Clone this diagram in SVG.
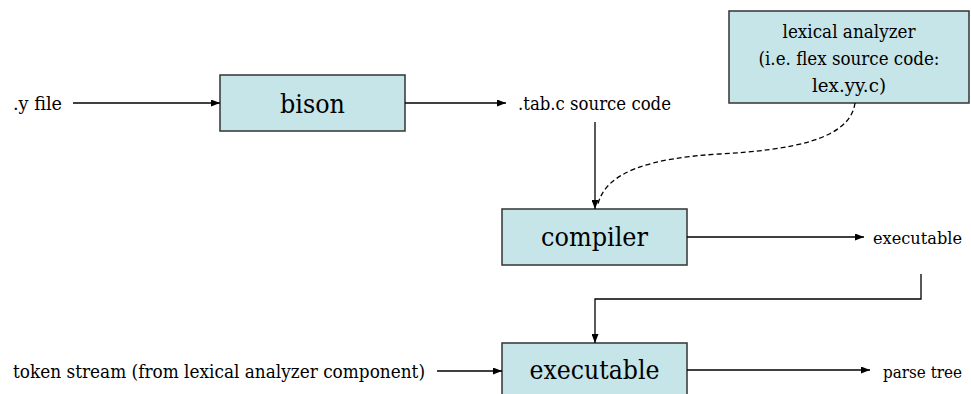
<svg xmlns="http://www.w3.org/2000/svg" width="971" height="394" viewBox="0 0 971 394">
<style>
.box{fill:#c6e5e8;stroke:#333;stroke-width:1.5}
text{font-family:"DejaVu Serif","Liberation Serif",serif;fill:#000}
.big{font-size:26px;text-anchor:middle}
.sm{font-size:18.5px}
.edge{font-size:16px}
.c{text-anchor:middle}
.ln{fill:none;stroke:#000;stroke-width:1.3}
.dash{stroke-dasharray:5 3}
</style>
<defs>
<marker id="ah" markerWidth="9" markerHeight="7" refX="9" refY="3.5" orient="auto" markerUnits="userSpaceOnUse">
<path d="M0,0 L9,3.5 L0,7 z" fill="#000"/>
</marker>
</defs>
<rect width="971" height="394" fill="#fff"/>
<g id="yfile"><text class="sm" x="13" y="110" textLength="49" lengthAdjust="spacingAndGlyphs">.y file</text></g>
<g id="bison"><rect class="box" x="220" y="75" width="185" height="56"/><text class="big" x="312.5" y="113" textLength="65" lengthAdjust="spacingAndGlyphs">bison</text></g>
<g id="tabc"><text class="sm" x="518" y="110" textLength="153" lengthAdjust="spacingAndGlyphs">.tab.c source code</text></g>
<g id="lexer"><rect class="box" x="729" y="11" width="240" height="92"/>
<text class="sm c" x="849" y="38" textLength="133" lengthAdjust="spacingAndGlyphs">lexical analyzer</text>
<text class="sm c" x="849" y="65" textLength="181" lengthAdjust="spacingAndGlyphs">(i.e. flex source code:</text>
<text class="sm c" x="849" y="92" textLength="74" lengthAdjust="spacingAndGlyphs">lex.yy.c)</text></g>
<g id="compiler"><rect class="box" x="502" y="209" width="185" height="56"/><text class="big" x="594.5" y="246" textLength="107" lengthAdjust="spacingAndGlyphs">compiler</text></g>
<g id="exe1"><text class="sm edge" x="873" y="244" textLength="89" lengthAdjust="spacingAndGlyphs">executable</text></g>
<g id="token"><text class="sm" x="13" y="378" textLength="412" lengthAdjust="spacingAndGlyphs">token stream (from lexical analyzer component)</text></g>
<g id="exe2"><rect class="box" x="502" y="343" width="185" height="60"/><text class="big" x="594.5" y="379" textLength="130" lengthAdjust="spacingAndGlyphs">executable</text></g>
<g id="parse"><text class="sm edge" x="883" y="378" textLength="79" lengthAdjust="spacingAndGlyphs">parse tree</text></g>
<g id="connectors">
<line class="ln" x1="73" y1="103" x2="220" y2="103" marker-end="url(#ah)"/>
<line class="ln" x1="405" y1="103" x2="506" y2="103" marker-end="url(#ah)"/>
<line class="ln" x1="595" y1="122" x2="595" y2="209" marker-end="url(#ah)"/>
<path class="ln dash" d="M855,103 C850,140 790,150 720,154 C650,158 606,172 598,204"/>
<line class="ln" x1="687" y1="237" x2="864" y2="237" marker-end="url(#ah)"/>
<polyline class="ln" points="921,274 921,299 595,299 595,343" marker-end="url(#ah)"/>
<line class="ln" x1="437" y1="371" x2="502" y2="371" marker-end="url(#ah)"/>
<line class="ln" x1="687" y1="370" x2="870" y2="370" marker-end="url(#ah)"/>
</g>
</svg>
